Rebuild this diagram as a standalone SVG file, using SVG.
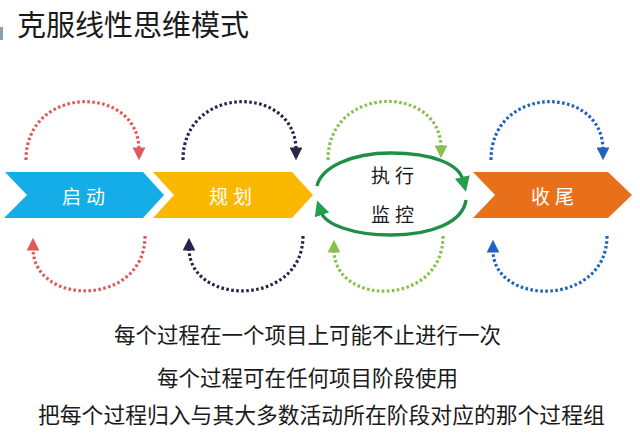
<svg xmlns="http://www.w3.org/2000/svg" width="640" height="444" viewBox="0 0 640 444">
<style>
.cjk{font-family:"Noto Sans CJK SC","Noto Sans",sans-serif;}
.title{font-size:29px;fill:#1a1a1a;}
.lbl{font-size:19px;letter-spacing:5px;text-anchor:middle;}
.note{font-size:21.5px;fill:#1a1a1a;}
.dot{fill:none;stroke-width:3.2;stroke-dasharray:2.6 2.4;}
</style>
<defs>
<marker id="mr" viewBox="0 0 10 10" refX="2" refY="5" markerWidth="4" markerHeight="4" orient="auto"><path d="M0,0 L10,5 L0,10 Z" fill="#e05a5a"/></marker>
<marker id="mn" viewBox="0 0 10 10" refX="2" refY="5" markerWidth="4" markerHeight="4" orient="auto"><path d="M0,0 L10,5 L0,10 Z" fill="#26264a"/></marker>
<marker id="mg" viewBox="0 0 10 10" refX="2" refY="5" markerWidth="4" markerHeight="4" orient="auto"><path d="M0,0 L10,5 L0,10 Z" fill="#86c04e"/></marker>
<marker id="mb" viewBox="0 0 10 10" refX="2" refY="5" markerWidth="4" markerHeight="4" orient="auto"><path d="M0,0 L10,5 L0,10 Z" fill="#1f62bf"/></marker>
<marker id="mG" viewBox="0 0 10 10" refX="2" refY="5" markerWidth="4.5" markerHeight="4.5" orient="auto"><path d="M0,0 L10,5 L0,10 Z" fill="#22a050"/></marker>
</defs>
<rect x="0" y="27" width="3" height="13" fill="#8aa0b0"/>
<text class="cjk title" x="17" y="36">克服线性思维模式</text>

<g id="start">
<path d="M5,172 L143,172 L164,195 L143,218 L4,218 L27,195 Z" fill="#14ade8"/>
<text class="cjk lbl" x="86" y="204" fill="#ffffff">启动</text>
</g>
<g id="plan">
<path d="M153,172 L292,172 L313,195 L292,218 L153,218 L174,195 Z" fill="#fbb800"/>
<text class="cjk lbl" x="233" y="204" fill="#ffffff">规划</text>
</g>
<g id="exec">
<text class="cjk lbl" x="395" y="183" fill="#1a1a1a">执行</text>
<text class="cjk lbl" x="395" y="222" fill="#1a1a1a">监控</text>
</g>
<g id="close">
<path d="M473,172 L608,172 L632,195 L608,218 L473,218 L495,195 Z" fill="#e8701a"/>
<text class="cjk lbl" x="555" y="204" fill="#ffffff">收尾</text>
</g>

<g id="connectors">
<path d="M317,186 C321,168 350,153 391,153 C432,153 459,164 463,180" fill="none" stroke="#1e8f45" stroke-width="3.4" marker-end="url(#mG)"/>
<path d="M466,200 C463,222 432,235 391,235 C352,235 325,224 321,212" fill="none" stroke="#1e8f45" stroke-width="3.4" marker-end="url(#mG)"/>

<path class="dot" stroke="#e05a5a" d="M26,160 C26,84 139,84 139,150" marker-end="url(#mr)"/>
<path class="dot" stroke="#e05a5a" d="M145,236 C145,307 33,307 33,248" marker-end="url(#mr)"/>

<path class="dot" stroke="#26264a" d="M183,160 C183,84 296,84 296,150" marker-end="url(#mn)"/>
<path class="dot" stroke="#26264a" d="M303,236 C303,307 189,307 189,248" marker-end="url(#mn)"/>

<path class="dot" stroke="#86c04e" d="M328,160 C328,84 441,84 441,148" marker-end="url(#mg)"/>
<path class="dot" stroke="#86c04e" d="M443,236 C443,307 334,307 334,250" marker-end="url(#mg)"/>

<path class="dot" stroke="#1f62bf" d="M491,160 C491,84 603,84 603,150" marker-end="url(#mb)"/>
<path class="dot" stroke="#1f62bf" d="M607,236 C607,307 493,307 493,250" marker-end="url(#mb)"/>
</g>

<text class="cjk note" x="114" y="343">每个过程在一个项目上可能不止进行一次</text>
<text class="cjk note" x="157" y="386">每个过程可在任何项目阶段使用</text>
<text class="cjk note" x="38" y="423" style="font-size:21.8px">把每个过程归入与其大多数活动所在阶段对应的那个过程组</text>
</svg>
